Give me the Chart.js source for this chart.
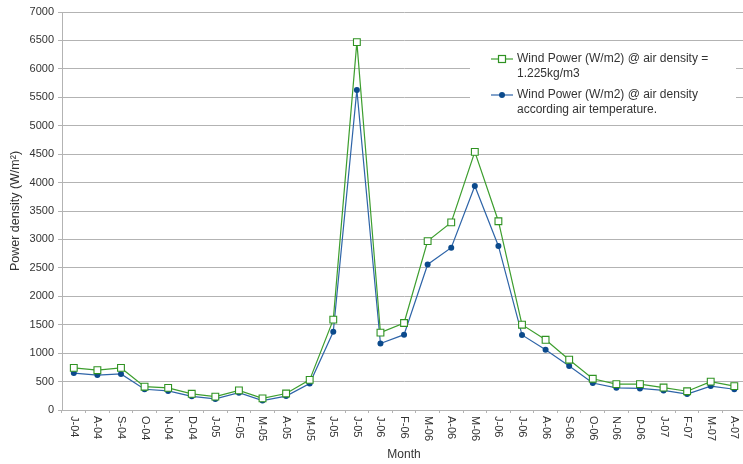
<!DOCTYPE html>
<html>
<head>
<meta charset="utf-8">
<script src="https://cdn.jsdelivr.net/npm/chart.js@4/dist/chart.umd.min.js"></script>
<style>
  html, body { margin: 0; padding: 0; background: #fff; overflow: hidden; }
  canvas { display: block; }
</style>
</head>
<body>
<canvas id="myCanvas" width="752" height="464"></canvas>
<script>
// month labels as printed on the original chart
const months = ["J-04", "A-04", "S-04", "O-04", "N-04", "D-04", "J-05", "F-05", "M-05", "A-05",
  "M-05", "J-05", "J-05", "J-06", "F-06", "M-06", "A-06", "M-06", "J-06", "J-06",
  "A-06", "S-06", "O-06", "N-06", "D-06", "J-07", "F-07", "M-07", "A-07"];

// W/m2 with air density 1.225 kg/m3
const powerFixedDensity = [740, 700, 740, 410, 390, 285, 235, 345, 205, 290,
  530, 1590, 6470, 1360, 1530, 2970, 3300, 4540, 3320, 1500,
  1235, 885, 550, 455, 455, 395, 330, 500, 420];

// W/m2 with density from air temperature
const powerTempDensity = [650, 615, 635, 365, 335, 240, 195, 305, 165, 245,
  465, 1375, 5630, 1170, 1325, 2560, 2855, 3940, 2885, 1320,
  1060, 775, 475, 390, 380, 345, 280, 420, 365];

const legendLines = [
  ["Wind Power (W/m2) @ air density =", "1.225kg/m3"],
  ["Wind Power (W/m2) @ air density", "according air temperature."]
];

const FONT = "'Liberation Sans', Arial, sans-serif";
const GRID = "#b3b3b3";
const TEXT = "#333333";

// x labels read top-to-bottom, chart.js rotates the other way so draw them here
const monthLabels = {
  id: "monthLabels",
  afterDraw(chart) {
    const ctx = chart.ctx;
    const xScale = chart.scales.x;
    ctx.save();
    ctx.font = "11px " + FONT;
    ctx.fillStyle = TEXT;
    ctx.textAlign = "left";
    ctx.textBaseline = "middle";
    months.forEach((m, i) => {
      const x = xScale.getPixelForValue(i);
      ctx.save();
      ctx.translate(x, xScale.top + 6);
      ctx.rotate(Math.PI / 2);
      ctx.fillText(m, 0, 0);
      ctx.restore();
    });
    ctx.restore();
  }
};

// two-line legend entries inside the plot
const boxLegend = {
  id: "boxLegend",
  afterDraw(chart) {
    const ctx = chart.ctx;
    const x0 = 470, y0 = 47;
    ctx.save();
    ctx.fillStyle = "#ffffff";
    ctx.fillRect(x0, y0, 266, 72);
    ctx.font = "12px " + FONT;
    ctx.textBaseline = "middle";
    ctx.textAlign = "left";
    chart.data.datasets.forEach((ds, i) => {
      const y = 59 + i * 36;
      ctx.strokeStyle = ds.borderColor;
      ctx.lineWidth = 1.2;
      ctx.beginPath();
      ctx.moveTo(491, y);
      ctx.lineTo(513, y);
      ctx.stroke();
      if (ds.pointStyle === "rect") {
        ctx.fillStyle = "#fff";
        ctx.fillRect(498.5, y - 3.5, 7, 7);
        ctx.strokeStyle = ds.pointBorderColor;
        ctx.strokeRect(498.5, y - 3.5, 7, 7);
      } else {
        ctx.fillStyle = ds.pointBackgroundColor;
        ctx.beginPath();
        ctx.arc(502, y, 3, 0, Math.PI * 2);
        ctx.fill();
      }
      ctx.fillStyle = TEXT;
      legendLines[i].forEach((t, j) => ctx.fillText(t, 517, y + j * 15));
    });
    ctx.restore();
  }
};

const ctx = document.getElementById("myCanvas").getContext("2d");
new Chart(ctx, {
  type: "line",
  data: {
    labels: months,
    datasets: [
      {
        label: "Wind Power (W/m2) @ air density = 1.225kg/m3",
        data: powerFixedDensity,
        borderColor: "#3d9e2e",
        borderWidth: 1.2,
        pointStyle: "rect",
        pointRadius: 4.8,
        pointBorderWidth: 1.1,
        pointBackgroundColor: "#ffffff",
        pointBorderColor: "#2f9222",
        tension: 0
      },
      {
        label: "Wind Power (W/m2) @ air density according air temperature.",
        data: powerTempDensity,
        borderColor: "#2e64a8",
        borderWidth: 1.2,
        pointStyle: "circle",
        pointRadius: 3,
        pointBorderWidth: 0,
        pointBackgroundColor: "#0b4a8c",
        pointBorderColor: "#0b4a8c",
        tension: 0
      }
    ]
  },
  options: {
    responsive: false,
    animation: false,
    layout: { padding: { top: 12, right: 1, left: 0, bottom: 0 } },
    plugins: {
      legend: { display: false },
      tooltip: { enabled: false }
    },
    scales: {
      x: {
        offset: true,
        grid: { offset: true, drawOnChartArea: false, color: GRID, tickLength: 3 },
        border: { color: GRID },
        ticks: { display: false },
        title: {
          display: true,
          text: "Month",
          color: TEXT,
          font: { family: FONT, size: 12 },
          padding: { top: 0, bottom: 2 }
        },
        afterFit(scale) { scale.height = 54; }
      },
      y: {
        min: 0,
        max: 7000,
        ticks: {
          stepSize: 500,
          color: TEXT,
          padding: 4,
          font: { family: FONT, size: 11 },
          callback: (v) => String(v)
        },
        grid: { color: GRID, tickLength: 4 },
        border: { color: GRID },
        title: {
          display: true,
          text: "Power density (W/m²)",
          color: TEXT,
          font: { family: FONT, size: 12.5 },
          padding: { top: 8, bottom: 0 }
        },
        afterFit(scale) { scale.width = 62; }
      }
    }
  },
  plugins: [monthLabels, boxLegend]
});
</script>
</body>
</html>
